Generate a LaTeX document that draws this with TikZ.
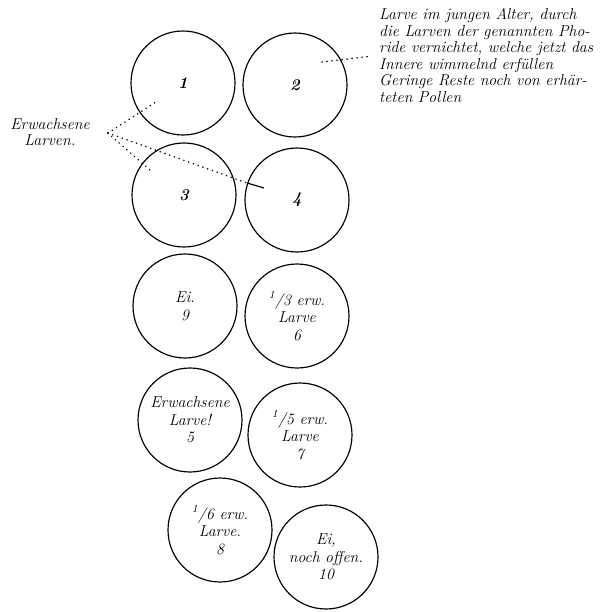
\documentclass[tikz,border=0pt]{standalone}
\usepackage{tikz}

\begin{document}
\begin{tikzpicture}[
  x=0.03cm, y=-0.03cm,
  cell/.style={circle, draw, line width=1pt, minimum size=3.12cm, inner sep=0pt,
               align=center, font=\fontsize{13.5}{15}\selectfont\itshape},
  cellno/.style={font=\fontsize{14}{16}\selectfont\bfseries\itshape},
  note/.style={align=left, inner sep=0pt, font=\fontsize{13.5}{14.1}\selectfont\itshape},
  pointer/.style={line width=1.4pt, dash pattern=on 0.1pt off 4.2pt, line cap=round},
]
\useasboundingbox (0,0) rectangle (612,612);

\node[cell, cellno] (c1) at (183, 83) {1};
\node[cell, cellno] (c2) at (295, 85) {2};
\node[cell, cellno] (c3) at (184, 195) {3};
\node[cell, cellno] (c4) at (297, 200) {4};

\node[cell] (c9) at (185, 306) {Ei.\\9};
\node[cell] (c6) at (297, 316) {\textsuperscript{1}/3 erw.\\Larve\\6};
\node[cell] (c5) at (190, 420) {Erwachsene\\Larve!\\5};
\node[cell] (c7) at (300, 435) {\textsuperscript{1}/5 erw.\\Larve\\7};
\node[cell] (c8) at (220, 530) {\textsuperscript{1}/6 erw.\\Larve.\\8};
\node[cell] (c10) at (326, 557) {Ei,\\noch offen.\\10};

\node[note, align=center] (adult) at (50, 132) {Erwachsene\\Larven.};
\node[note, anchor=north west] (young) at (379, 8) {Larve im jungen Alter, durch\\
  die Larven der genannten Pho-\\
  ride vernichtet, welche jetzt das\\
  Innere wimmelnd erf\"ullen\\
  Geringe Reste noch von erh\"ar-\\
  teten Pollen};

\coordinate (apex) at (108, 133);
\coordinate (p1) at (156, 102);
\coordinate (p3) at (153, 173);
\coordinate (p4a) at (247, 183);
\coordinate (p4) at (264, 188);
\coordinate (q2) at (322, 62);

\draw[pointer] (apex) -- (p1);
\draw[pointer] (apex) -- (p3);
\draw[pointer] (apex) -- (p4a);
\draw[line width=1pt] (p4a) -- (p4);
\draw[pointer, shorten >=6pt] (q2) -- (young.west);

\end{tikzpicture}
\end{document}
